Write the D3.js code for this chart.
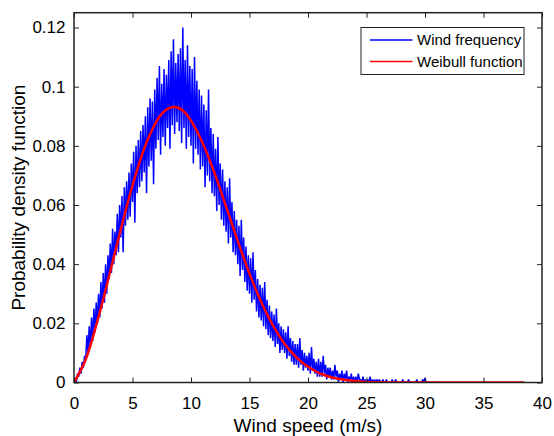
<!DOCTYPE html>
<html>
<head>
<meta charset="utf-8">
<script src="https://cdn.jsdelivr.net/npm/d3@7"></script>
<style>
  body { margin: 0; background: #fff; }
  text { font-family: "Liberation Sans", Arial, Helvetica, sans-serif; fill: #000; }
</style>
</head>
<body>
<svg id="chart" width="554" height="436">
  <defs><clipPath id="plot_clip"><rect id="clip_rect"></rect></clipPath></defs>
  <g id="lines" clip-path="url(#plot_clip)"></g>
  <g id="axes"></g>
  <g id="legend"></g>
</svg>
<script>

// measured wind frequency, one value per 0.1 m/s bin starting at 0
let bin_width = 0.1;
let wind_freq = [
  0.000, 0.001, 0.000, 0.003, 0.002, 0.005, 0.003, 0.007, 0.005, 0.009,
  0.008, 0.016, 0.010, 0.019, 0.012, 0.022, 0.014, 0.025, 0.017, 0.027,
  0.020, 0.030, 0.022, 0.034, 0.025, 0.037, 0.027, 0.040, 0.030, 0.043,
  0.035, 0.047, 0.037, 0.052, 0.040, 0.051, 0.043, 0.057, 0.044, 0.060,
  0.049, 0.063, 0.044, 0.066, 0.053, 0.068, 0.055, 0.071, 0.056, 0.074,
  0.061, 0.078, 0.054, 0.080, 0.064, 0.082, 0.066, 0.085, 0.068, 0.087,
  0.071, 0.090, 0.064, 0.093, 0.073, 0.096, 0.075, 0.095, 0.067, 0.099,
  0.079, 0.103, 0.082, 0.107, 0.077, 0.101, 0.083, 0.106, 0.080, 0.104,
  0.086, 0.109, 0.079, 0.112, 0.087, 0.116, 0.084, 0.108, 0.088, 0.111,
  0.085, 0.113, 0.081, 0.120, 0.086, 0.109, 0.079, 0.114, 0.083, 0.107,
  0.080, 0.106, 0.074, 0.110, 0.079, 0.102, 0.077, 0.099, 0.072, 0.097,
  0.073, 0.094, 0.066, 0.092, 0.070, 0.099, 0.068, 0.086, 0.064, 0.084,
  0.063, 0.079, 0.058, 0.083, 0.060, 0.074, 0.055, 0.072, 0.053, 0.068,
  0.051, 0.066, 0.047, 0.069, 0.049, 0.061, 0.044, 0.058, 0.043, 0.055,
  0.040, 0.053, 0.036, 0.055, 0.038, 0.049, 0.034, 0.046, 0.031, 0.043,
  0.030, 0.042, 0.027, 0.044, 0.028, 0.038, 0.024, 0.035, 0.022, 0.033,
  0.021, 0.032, 0.019, 0.034, 0.018, 0.028, 0.016, 0.026, 0.015, 0.024,
  0.014, 0.023, 0.012, 0.025, 0.013, 0.020, 0.010, 0.019, 0.011, 0.018,
  0.010, 0.017, 0.008, 0.019, 0.009, 0.015, 0.007, 0.014, 0.006, 0.013,
  0.006, 0.013, 0.005, 0.015, 0.006, 0.011, 0.004, 0.010, 0.005, 0.009,
  0.004, 0.010, 0.003, 0.012, 0.004, 0.008, 0.003, 0.007, 0.002, 0.008,
  0.002, 0.007, 0.002, 0.009, 0.003, 0.006, 0.001, 0.005, 0.002, 0.005,
  0.001, 0.004, 0.001, 0.006, 0.002, 0.004, 0.000, 0.003, 0.001, 0.004,
  0.000, 0.003, 0.001, 0.004, 0.000, 0.002, 0.001, 0.003, 0.000, 0.002,
  0.000, 0.002, 0.000, 0.003, 0.001, 0.001, 0.000, 0.002, 0.000, 0.001,
  0.000, 0.001, 0.000, 0.002, 0.000, 0.001, 0.000, 0.001, 0.000, 0.001,
  0.000, 0.001, 0.000, 0.000, 0.001, 0.000, 0.000, 0.001, 0.000, 0.000,
  0.000, 0.000, 0.001, 0.000, 0.000, 0.001, 0.000, 0.000, 0.000, 0.000,
  0.000, 0.001, 0.000, 0.000, 0.000, 0.000, 0.001, 0.000, 0.000, 0.000,
  0.000, 0.000, 0.000, 0.001, 0.000, 0.000, 0.000, 0.000, 0.001, 0.000,
  0.0015, 0.000, 0.000, 0.000, 0.000, 0.000, 0.000, 0.000, 0.000, 0.000,
  0.000
];

// fitted Weibull curve
let weibull_speed = [0, 1, 2, 3, 4, 5, 6, 7, 7.5, 8, 8.5, 9, 9.5, 10, 11, 12, 13, 14, 15, 16, 17, 18, 19,
                     20, 21, 22, 23, 24, 25, 26, 27, 28, 30, 32, 34, 36, 38.5];
let weibull_pdf = [0, 0.0078, 0.0208, 0.0360, 0.0518, 0.0666, 0.0791, 0.0879, 0.0908, 0.0925, 0.0931,
                   0.0927, 0.0911, 0.0885, 0.0809, 0.0709, 0.0594, 0.0478, 0.0368, 0.0272, 0.0193,
                   0.0131, 0.0085, 0.0053, 0.0031, 0.0018, 0.0010, 0.0005, 0.0002, 0.0001, 0, 0,
                   0, 0, 0, 0, 0];

let x_ticks = [0, 5, 10, 15, 20, 25, 30, 35, 40],
    y_ticks = [0, 0.02, 0.04, 0.06, 0.08, 0.1, 0.12],
    legend_labels = ["Wind frequency", "Weibull function"],
    colors = ["#0000ff", "#ff0000"];

let margins = {left: 74, right: 12, top: 12.7, bottom: 53.5},
    width = 554,
    height = 436;

function make_scales() {
  return {
    x: d3.scaleLinear()
         .domain([0, 40])
         .range([margins.left, width - margins.right]),
    y: d3.scaleLinear()
         .domain([0, 0.125])
         .range([height - margins.bottom, margins.top])
  }
}

function add_axes(scales) {
  let axes = d3.select("#axes"),
      bottom = height - margins.bottom,
      right = width - margins.right;

  let x_axis = d3.axisBottom(scales.x)
        .tickValues(x_ticks)
        .tickFormat(d3.format("d"))
        .tickSizeInner(-5).tickSizeOuter(0).tickPadding(14),
      y_axis = d3.axisLeft(scales.y)
        .tickValues(y_ticks)
        .tickFormat(d => d == 0 ? "0" : String(+d.toFixed(2)))
        .tickSizeInner(-5).tickSizeOuter(0).tickPadding(8.5);

  axes.append("g")
    .attr("transform", `translate(0,${bottom})`)
    .call(x_axis);
  axes.append("g")
    .attr("transform", `translate(${margins.left},0)`)
    .call(y_axis);

  // mirrored ticks on top and right, no labels
  axes.append("g")
    .attr("transform", `translate(0,${margins.top})`)
    .call(d3.axisTop(scales.x).tickValues(x_ticks).tickFormat("").tickSizeInner(-5).tickSizeOuter(0));
  axes.append("g")
    .attr("transform", `translate(${right},0)`)
    .call(d3.axisRight(scales.y).tickValues(y_ticks).tickFormat("").tickSizeInner(-5).tickSizeOuter(0));

  axes.selectAll(".domain").remove();
  axes.selectAll(".tick line").attr("stroke", "#222").attr("stroke-width", 1);
  axes.selectAll(".tick text")
    .attr("font-size", 17)
    .attr("fill", "#000")
    .attr("font-family", "Liberation Sans, Arial, sans-serif");

  axes.append("rect")
    .attr("x", margins.left)
    .attr("y", margins.top)
    .attr("width", right - margins.left)
    .attr("height", bottom - margins.top)
    .attr("fill", "none")
    .attr("stroke", "#222")
    .attr("stroke-width", 1.5);

  axes.append("text")
    .attr("x", (margins.left + right) / 2)
    .attr("y", 432)
    .attr("text-anchor", "middle")
    .attr("font-size", 19)
    .text("Wind speed (m/s)");

  axes.append("text")
    .attr("transform", `translate(25,${(margins.top + bottom) / 2}) rotate(-90)`)
    .attr("text-anchor", "middle")
    .attr("font-size", 19)
    .text("Probability density function");
}

function draw_lines(scales) {
  d3.select("#clip_rect")
    .attr("x", margins.left)
    .attr("y", margins.top)
    .attr("width", width - margins.right - margins.left)
    .attr("height", height - margins.bottom - margins.top);

  let freq_line = d3.line()
    .x((d, i) => scales.x(i * bin_width))
    .y(d => scales.y(d));

  let weibull_line = d3.line()
    .x(d => scales.x(d[0]))
    .y(d => scales.y(d[1]))
    .curve(d3.curveCatmullRom.alpha(0.5));

  d3.select("#lines")
    .append("path")
    .attr("d", freq_line(wind_freq))
    .attr("fill", "none")
    .attr("stroke", colors[0])
    .attr("stroke-width", 1.5)
    .attr("stroke-linejoin", "bevel");

  d3.select("#lines")
    .append("path")
    .attr("d", weibull_line(d3.zip(weibull_speed, weibull_pdf)))
    .attr("fill", "none")
    .attr("stroke", colors[1])
    .attr("stroke-width", 2.5);
}

function draw_legend() {
  let legend = d3.select("#legend");

  legend.append("rect")
    .attr("x", 361)
    .attr("y", 27.5)
    .attr("width", 163)
    .attr("height", 47)
    .attr("fill", "#fff")
    .attr("stroke", "#222")
    .attr("stroke-width", 1);

  let rows = legend.selectAll("g.row")
    .data(legend_labels).enter()
    .append("g")
    .attr("class", "row")
    .attr("transform", (d, i) => `translate(0,${40 + i * 21.5})`);

  rows.append("line")
    .attr("x1", 370).attr("x2", 412.5)
    .attr("y1", 0).attr("y2", 0)
    .attr("stroke", (d, i) => colors[i])
    .attr("stroke-width", 1.3);

  rows.append("text")
    .attr("x", 417)
    .attr("y", 5.3)
    .attr("font-size", 15)
    .text(d => d);
}

let scales = make_scales();
draw_lines(scales);
add_axes(scales);
draw_legend();

</script>
</body>
</html>
